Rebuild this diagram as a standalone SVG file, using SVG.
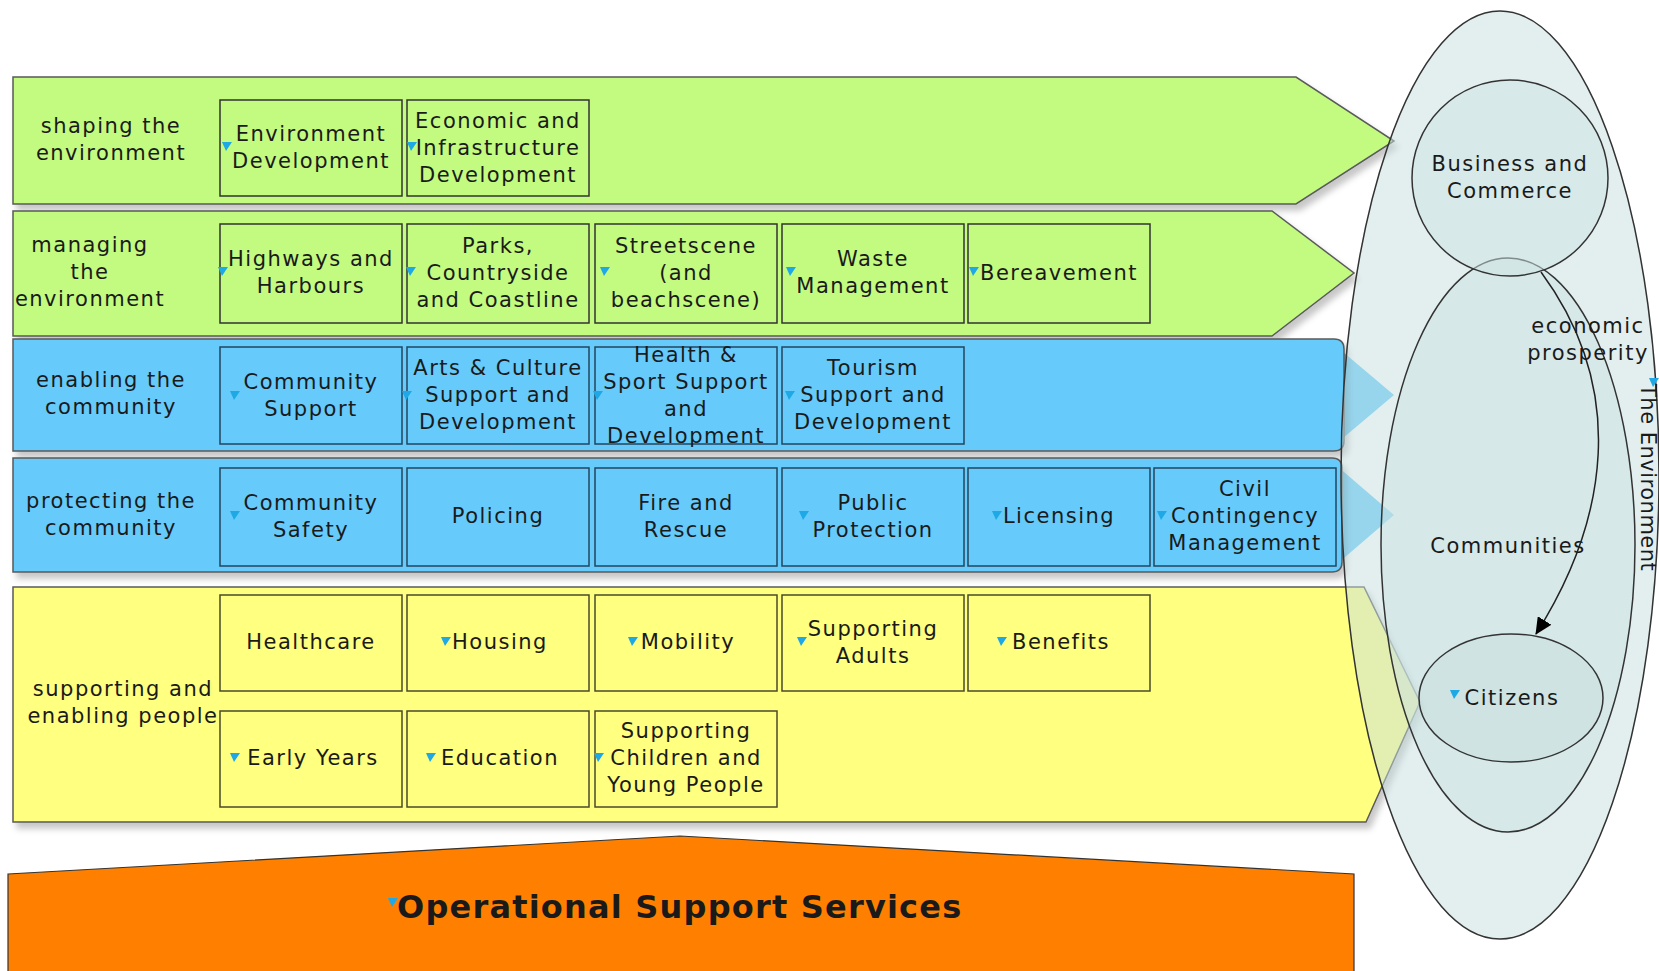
<svg xmlns="http://www.w3.org/2000/svg" xmlns:xlink="http://www.w3.org/1999/xlink" width="1659" height="971" viewBox="0 0 1659 971">
<style>
text{font-family:"DejaVu Sans","Liberation Sans",sans-serif;font-size:21px;fill:#1a1a1a;letter-spacing:1.5px}
.c{text-anchor:middle}
.band{stroke:#5a5a5a;stroke-width:1.5}
.g{fill:#c3fb80}
.b{fill:#66cbfb}
.y{fill:#ffff80}
.bx{fill:#66cbfb;stroke:#23465f;stroke-width:1.5}
.yx{fill:#ffff80;stroke:#4a4a2a;stroke-width:1.5}
.gx{fill:#c3fb80;stroke:#333;stroke-width:1.5}
.ell{stroke:#333;stroke-width:1.5}
.big{font-size:32px;font-weight:bold;letter-spacing:1.2px}
</style>
<defs>
<filter id="sh" x="-5%" y="-20%" width="110%" height="150%">
<feDropShadow dx="4" dy="6" stdDeviation="3" flood-color="#000" flood-opacity="0.22"/>
</filter>
<path id="m" d="M0,0 L10,0 L4,9 Z" fill="#1ea9e6"/>
<marker id="ah" markerWidth="18" markerHeight="16" refX="16" refY="8" orient="auto" markerUnits="userSpaceOnUse">
<path d="M0,0 L17,8 L0,16 Z" fill="#000"/>
</marker>
</defs>
<rect width="1659" height="971" fill="#fff"/>

<!-- bands -->
<g id="band-shaping">
<path class="band g" filter="url(#sh)" d="M13,77 H1296 L1394,141 L1296,204 H13 Z"/>
<text class="c" x="111" y="133">shaping the<tspan x="111" dy="27">environment</tspan></text>
</g>
<g id="band-managing">
<path class="band g" filter="url(#sh)" d="M13,211 H1272 L1354,273 L1272,336 H13 Z"/>
<text class="c" x="90" y="252">managing<tspan x="90" dy="27">the</tspan><tspan x="90" dy="27">environment</tspan></text>
</g>
<g id="band-enabling">
<path class="b" d="M1330,341 L1394,395 L1330,449 Z"/>
<path class="band b" filter="url(#sh)" stroke="#222" d="M13,339 H1334 Q1344,339 1344,349 V441 Q1344,451 1334,451 H13 Z"/>
<text class="c" x="111" y="387">enabling the<tspan x="111" dy="27">community</tspan></text>
</g>
<g id="band-protecting">
<path class="b" d="M1330,460 L1394,515 L1330,570 Z"/>
<path class="band b" filter="url(#sh)" stroke="#222" d="M13,458 H1332 Q1342,458 1342,468 V562 Q1342,572 1332,572 H13 Z"/>
<text class="c" x="111" y="508">protecting the<tspan x="111" dy="27">community</tspan></text>
</g>
<g id="band-supporting">
<path class="band y" filter="url(#sh)" d="M13,587 H1364 L1420,702 L1366,822 H13 Z"/>
<text class="c" x="123" y="696">supporting and<tspan x="123" dy="27">enabling people</tspan></text>
</g>
<g id="operational-support-services">
<path fill="#ff8000" stroke="#333" stroke-width="1.2" d="M8,874 L680,836 L1354,874 V975 H8 Z"/>
<use xlink:href="#m" x="388" y="898"/>
<text class="big" x="397" y="918">Operational Support Services</text>
</g>

<!-- row 1 -->
<g id="environment-development"><rect class="gx" x="220" y="100" width="182" height="96"/><use xlink:href="#m" x="222" y="142"/><text class="c" x="311" y="141">Environment<tspan x="311" dy="27">Development</tspan></text></g>
<g id="economic-infrastructure"><rect class="gx" x="407" y="100" width="182" height="96"/><use xlink:href="#m" x="407" y="142"/><text class="c" x="498" y="128">Economic and<tspan x="498" dy="27">Infrastructure</tspan><tspan x="498" dy="27">Development</tspan></text></g>
<!-- row 2 -->
<g id="highways-harbours"><rect class="gx" x="220" y="224" width="182" height="99"/><use xlink:href="#m" x="218" y="267"/><text class="c" x="311" y="266">Highways and<tspan x="311" dy="27">Harbours</tspan></text></g>
<g id="parks"><rect class="gx" x="407" y="224" width="182" height="99"/><use xlink:href="#m" x="406" y="267"/><text class="c" x="498" y="253">Parks,<tspan x="498" dy="27">Countryside</tspan><tspan x="498" dy="27">and Coastline</tspan></text></g>
<g id="streetscene"><rect class="gx" x="595" y="224" width="182" height="99"/><use xlink:href="#m" x="600" y="267"/><text class="c" x="686" y="253">Streetscene<tspan x="686" dy="27">(and</tspan><tspan x="686" dy="27">beachscene)</tspan></text></g>
<g id="waste-management"><rect class="gx" x="782" y="224" width="182" height="99"/><use xlink:href="#m" x="786" y="267"/><text class="c" x="873" y="266">Waste<tspan x="873" dy="27">Management</tspan></text></g>
<g id="bereavement"><rect class="gx" x="968" y="224" width="182" height="99"/><use xlink:href="#m" x="969" y="267"/><text class="c" x="1059" y="280">Bereavement</text></g>
<!-- row 3 -->
<g id="community-support"><rect class="bx" x="220" y="347" width="182" height="97"/><use xlink:href="#m" x="230" y="391"/><text class="c" x="311" y="389">Community<tspan x="311" dy="27">Support</tspan></text></g>
<g id="arts-culture"><rect class="bx" x="407" y="347" width="182" height="97"/><use xlink:href="#m" x="402" y="391"/><text class="c" x="498" y="375">Arts &amp; Culture<tspan x="498" dy="27">Support and</tspan><tspan x="498" dy="27">Development</tspan></text></g>
<g id="health-sport"><rect class="bx" x="595" y="347" width="182" height="97"/><use xlink:href="#m" x="593" y="391"/><text class="c" x="686" y="362">Health &amp;<tspan x="686" dy="27">Sport Support</tspan><tspan x="686" dy="27">and</tspan><tspan x="686" dy="27">Development</tspan></text></g>
<g id="tourism"><rect class="bx" x="782" y="347" width="182" height="97"/><use xlink:href="#m" x="785" y="391"/><text class="c" x="873" y="375">Tourism<tspan x="873" dy="27">Support and</tspan><tspan x="873" dy="27">Development</tspan></text></g>
<!-- row 4 -->
<g id="community-safety"><rect class="bx" x="220" y="468" width="182" height="98"/><use xlink:href="#m" x="230" y="511"/><text class="c" x="311" y="510">Community<tspan x="311" dy="27">Safety</tspan></text></g>
<g id="policing"><rect class="bx" x="407" y="468" width="182" height="98"/><text class="c" x="498" y="523">Policing</text></g>
<g id="fire-rescue"><rect class="bx" x="595" y="468" width="182" height="98"/><text class="c" x="686" y="510">Fire and<tspan x="686" dy="27">Rescue</tspan></text></g>
<g id="public-protection"><rect class="bx" x="782" y="468" width="182" height="98"/><use xlink:href="#m" x="799" y="511"/><text class="c" x="873" y="510">Public<tspan x="873" dy="27">Protection</tspan></text></g>
<g id="licensing"><rect class="bx" x="968" y="468" width="182" height="98"/><use xlink:href="#m" x="992" y="511"/><text class="c" x="1059" y="523">Licensing</text></g>
<g id="civil-contingency"><rect class="bx" x="1154" y="468" width="182" height="98"/><use xlink:href="#m" x="1157" y="511"/><text class="c" x="1245" y="496">Civil<tspan x="1245" dy="27">Contingency</tspan><tspan x="1245" dy="27">Management</tspan></text></g>
<!-- row 5 -->
<g id="healthcare"><rect class="yx" x="220" y="595" width="182" height="96"/><text class="c" x="311" y="649">Healthcare</text></g>
<g id="housing"><rect class="yx" x="407" y="595" width="182" height="96"/><use xlink:href="#m" x="441" y="637"/><text class="c" x="500" y="649">Housing</text></g>
<g id="mobility"><rect class="yx" x="595" y="595" width="182" height="96"/><use xlink:href="#m" x="628" y="637"/><text class="c" x="688" y="649">Mobility</text></g>
<g id="supporting-adults"><rect class="yx" x="782" y="595" width="182" height="96"/><use xlink:href="#m" x="797" y="637"/><text class="c" x="873" y="636">Supporting<tspan x="873" dy="27">Adults</tspan></text></g>
<g id="benefits"><rect class="yx" x="968" y="595" width="182" height="96"/><use xlink:href="#m" x="997" y="637"/><text class="c" x="1061" y="649">Benefits</text></g>
<!-- row 6 -->
<g id="early-years"><rect class="yx" x="220" y="711" width="182" height="96"/><use xlink:href="#m" x="230" y="753"/><text class="c" x="313" y="765">Early Years</text></g>
<g id="education"><rect class="yx" x="407" y="711" width="182" height="96"/><use xlink:href="#m" x="426" y="753"/><text class="c" x="500" y="765">Education</text></g>
<g id="supporting-children"><rect class="yx" x="595" y="711" width="182" height="96"/><use xlink:href="#m" x="594" y="753"/><text class="c" x="686" y="738">Supporting<tspan x="686" dy="27">Children and</tspan><tspan x="686" dy="27">Young People</tspan></text></g>

<!-- ellipses -->
<g id="the-environment">
<ellipse class="ell" cx="1500" cy="475" rx="159" ry="464" fill="rgb(199,223,223)" fill-opacity="0.5"/>
<use xlink:href="#m" x="1649" y="378"/>
<text transform="translate(1641,384) rotate(90)" style="letter-spacing:0.5px">The Environment</text>
</g>
<g id="communities">
<ellipse class="ell" cx="1508" cy="545" rx="127" ry="287" fill="rgb(201,225,225)" fill-opacity="0.5"/>
<text class="c" x="1508" y="553">Communities</text>
</g>
<g id="business-commerce">
<circle class="ell" cx="1510" cy="178" r="98" fill="rgb(205,227,227)" fill-opacity="0.5"/>
<text class="c" x="1510" y="171">Business and<tspan x="1510" dy="27">Commerce</tspan></text>
</g>
<g id="citizens">
<ellipse class="ell" cx="1511" cy="698" rx="92" ry="64" fill="rgb(200,222,222)" fill-opacity="0.45"/>
<use xlink:href="#m" x="1450" y="690"/>
<text class="c" x="1512" y="705">Citizens</text>
</g>

<g id="connectors">
<path d="M1541,272 C1628,390 1608,520 1536,634" fill="none" stroke="#222" stroke-width="1.5" marker-end="url(#ah)"/>
<text class="c" x="1588" y="333">economic<tspan x="1588" dy="27">prosperity</tspan></text>
</g>
</svg>
